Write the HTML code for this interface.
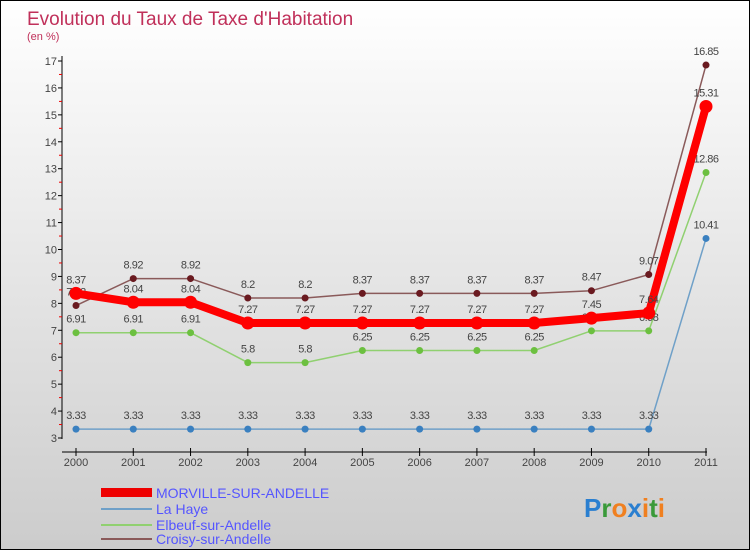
<!DOCTYPE html>
<html><head><meta charset="utf-8"><style>
body{margin:0}
#c{width:748px;height:548px;border:1px solid #000;background:linear-gradient(#fff,#ccc);position:relative;font-family:"Liberation Sans",sans-serif;overflow:hidden}
</style></head><body>
<div id="c">
<svg id="s" width="748" height="548" xmlns="http://www.w3.org/2000/svg">
<text x="26" y="24" font-size="19" fill="#c0305a">Evolution du Taux de Taxe d'Habitation</text>
<text x="26" y="39" font-size="11" fill="#c0305a">(en %)</text>
<g id="axes"></g><g id="series"></g>
<g>
<rect x="100" y="487" width="51" height="9" fill="#e00"/>
<text x="155" y="497" font-size="14" fill="#5555ff">MORVILLE-SUR-ANDELLE</text>
<line x1="100" y1="508" x2="151" y2="508" stroke="#6fa0c8" stroke-width="2"/>
<text x="155" y="513" font-size="14" fill="#5555ff">La Haye</text>
<line x1="100" y1="524" x2="151" y2="524" stroke="#90d070" stroke-width="2"/>
<text x="155" y="529" font-size="14" fill="#5555ff">Elbeuf-sur-Andelle</text>
<line x1="100" y1="538" x2="151" y2="538" stroke="#8a5a5a" stroke-width="2"/>
<text x="155" y="543" font-size="14" fill="#5555ff">Croisy-sur-Andelle</text>
</g>
<text x="583" y="516" font-size="26" font-weight="bold"><tspan fill="#2a7fd0">P</tspan><tspan fill="#3a9a3a">r</tspan><tspan fill="#f08020">o</tspan><tspan fill="#2a7fd0">x</tspan><tspan fill="#f08020">i</tspan><tspan fill="#3a9a3a">t</tspan><tspan fill="#f08020">i</tspan></text>
</svg></div>
<script>
const years=["2000","2001","2002","2003","2004","2005","2006","2007","2008","2009","2010","2011"];
const yTicks=[3,4,5,6,7,8,9,10,11,12,13,14,15,16,17];
const morville=[8.37,8.04,8.04,7.27,7.27,7.27,7.27,7.27,7.27,7.45,7.64,15.31];
const laHaye=[3.33,3.33,3.33,3.33,3.33,3.33,3.33,3.33,3.33,3.33,3.33,10.41];
const elbeuf=[6.91,6.91,6.91,5.8,5.8,6.25,6.25,6.25,6.25,6.98,6.98,12.86];
const croisy=[7.92,8.92,8.92,8.2,8.2,8.37,8.37,8.37,8.37,8.47,9.07,16.85];
const NS="http://www.w3.org/2000/svg";
const X=i=>75+i*(630/11), Y=v=>437-(v-3)*(377/14);
function mk(t,a,p){const e=document.createElementNS(NS,t);for(const k in a)e.setAttribute(k,a[k]);p.appendChild(e);return e;}
const ax=document.getElementById('axes');
mk('line',{x1:61,y1:55,x2:61,y2:438,stroke:'#000'},ax);
mk('line',{x1:61,y1:451,x2:706,y2:451,stroke:'#000'},ax);
yTicks.forEach(v=>{mk('line',{x1:57,y1:Y(v),x2:61,y2:Y(v),stroke:'#000'},ax);
 if(v<17)mk('line',{x1:58,y1:Y(v+0.5),x2:61,y2:Y(v+0.5),stroke:'#e00'},ax);
 const t=mk('text',{x:56,y:Y(v)+4,'font-size':11,fill:'#444','text-anchor':'end'},ax);t.textContent=v;
 
 });
years.forEach((y,i)=>{mk('line',{x1:X(i),y1:447,x2:X(i),y2:455,stroke:'#000'},ax);
 const t=mk('text',{x:X(i),y:465,'font-size':11,fill:'#444','text-anchor':'middle'},ax);t.textContent=y;
 
 });
const sg=document.getElementById('series');
function draw(d,col,w,r,dot,name){const g=mk('g',{},sg);
 
 
 mk('polyline',{points:d.map((v,i)=>X(i)+','+Y(v)).join(' '),fill:'none',stroke:col,'stroke-width':w,'stroke-linejoin':'round'},g);
 d.forEach((v,i)=>{const c=mk('circle',{cx:X(i),cy:Y(v),r:r,fill:dot},g);
  
  
  const t=mk('text',{x:X(i),y:Y(v)-10,'font-size':11,fill:'#444','text-anchor':'middle','letter-spacing':'-0.5'},g);t.textContent=v;
  
  });}
draw(laHaye,'#6fa0c8',1.5,3.5,'#3a80c0','series-la-haye');
draw(elbeuf,'#90d070',1.5,3.5,'#6cc040','series-elbeuf');
draw(croisy,'#8a5a5a',1.5,3.5,'#6a1a20','series-croisy');
draw(morville,'#f00',8,6.5,'#f00','series-morville');
</script></body></html>
